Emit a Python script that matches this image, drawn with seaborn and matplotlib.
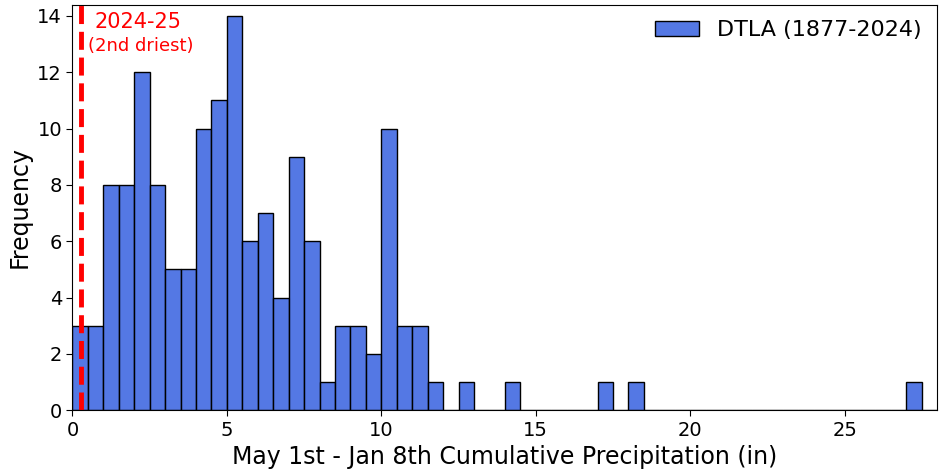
import numpy as np
import pandas as pd
import matplotlib
matplotlib.use('Agg')
import matplotlib.pyplot as plt
import seaborn as sns

# bin edges (0.5 in bins) and counts
bin_left = np.arange(0, 28, 0.5)
counts = [3, 3, 8, 8, 12, 8, 5, 5, 10, 11, 14, 6, 7, 4, 9, 6,
          1, 3, 3, 2, 10, 3, 3, 1, 0, 1, 0, 0, 1, 0,
          0, 0, 0, 0, 1, 0, 1, 0, 0, 0, 0, 0, 0, 0,
          0, 0, 0, 0, 0, 0, 0, 0, 0, 0, 1, 0]
this_year = 0.28

df = pd.DataFrame({'precip': bin_left + 0.25, 'n': counts})
df = df[df['n'] > 0]

# plain matplotlib look (black ticks / spines)
sns.set_style('ticks', {'axes.edgecolor': 'black', 'xtick.color': 'black',
                        'ytick.color': 'black', 'text.color': 'black',
                        'axes.labelcolor': 'black'})
plt.rcParams['font.family'] = ['DejaVu Sans']

fig, ax = plt.subplots(figsize=(9.41, 4.72), dpi=100)
sns.histplot(data=df, x='precip', weights='n', binwidth=0.5, binrange=(0, 28), ax=ax,
             color='royalblue', alpha=0.9, edgecolor='black', linewidth=1,
             label='DTLA (1877-2024)')

ax.axvline(this_year, color='red', linestyle='--', linewidth=3.5)
ax.text(0.7, 13.79, '2024-25', color='red', fontsize=15, va='center', ha='left')
ax.text(0.5, 12.93, '(2nd driest)', color='red', fontsize=13, va='center', ha='left')

ax.set_xlim(0, 28)
ax.set_ylim(0, 14.4)
ax.set_yticks(range(0, 15, 2))
ax.set_xlabel('May 1st - Jan 8th Cumulative Precipitation (in)', fontsize=17)
ax.set_ylabel('Frequency', fontsize=17)
ax.tick_params(axis='both', labelsize=14, length=4)
ax.legend(loc='upper right', frameon=False, fontsize=16, borderaxespad=0.3)

fig.subplots_adjust(left=0.077, right=0.996, top=0.99, bottom=0.131)
fig.savefig('out.png', dpi=100)
